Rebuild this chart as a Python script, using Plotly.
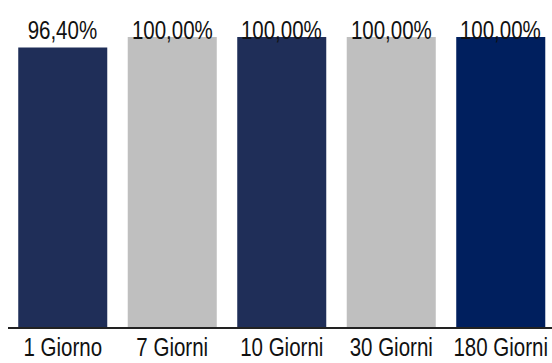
import plotly.graph_objects as go

categories = ["1 Giorno", "7 Giorni", "10 Giorni", "30 Giorni", "180 Giorni"]
values = [96.40, 100.00, 100.00, 100.00, 100.00]
labels = ["96,40%", "100,00%", "100,00%", "100,00%", "100,00%"]
colors = ["#1f2e58", "#bfbfbf", "#1f2e58", "#bfbfbf", "#001f5e"]

FONT = "Liberation Sans, Arial, sans-serif"
FS = 25

fig = go.Figure()
fig.add_trace(go.Bar(
    x=categories, y=values, marker=dict(color=colors, line=dict(width=0)),
    hoverinfo="skip",
))
for c, t in zip(categories, labels):
    fig.add_annotation(x=c, xref="x", y=1.0, yref="paper", yshift=-4,
                       text=t, showarrow=False, yanchor="top",
                       font=dict(family=FONT, size=FS, color="#111111"))

fig.update_layout(
    width=552, height=363,
    margin=dict(l=8, r=0, t=10, b=36),
    paper_bgcolor="white", plot_bgcolor="white",
    bargap=0.187, showlegend=False,
    font=dict(family=FONT, size=FS, color="#111111"),
    xaxis=dict(range=[-0.5, 4.468], showline=True, linecolor="#222222", linewidth=1.5,
               ticks="", showgrid=False, tickangle=0, automargin=False,
               ticklabelstandoff=-3,
               tickfont=dict(family=FONT, size=FS, color="#111111")),
    yaxis=dict(range=[0, 109.3], visible=False, showgrid=False),
)

squeeze_js = """
var gd = document.getElementById('{plot_id}');
function squeeze(){
  gd.querySelectorAll('g.xtick text, text.annotation-text').forEach(function(t){
    if (t.getAttribute('data-sq')) return;
    var L = t.getComputedTextLength();
    t.setAttribute('textLength', (L*0.82).toFixed(2));
    t.setAttribute('lengthAdjust', 'spacingAndGlyphs');
    t.setAttribute('data-sq', '1');
  });
}
squeeze();
gd.on('plotly_afterplot', squeeze);
"""
fig.write_html("out.html", post_script=squeeze_js)
